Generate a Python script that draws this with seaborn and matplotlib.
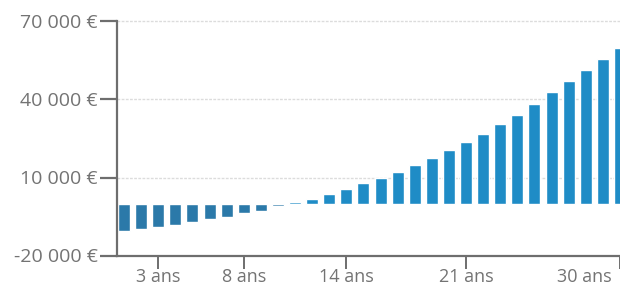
import matplotlib
matplotlib.use("Agg")
import matplotlib.pyplot as plt
import matplotlib.transforms as mtransforms
import seaborn as sns
import pandas as pd

# values (euros), one bar per year
years = list(range(1, 31))
gains = [-10500, -9700, -9100, -8100, -7200, -6150, -5000, -3700, -2700, -1100,
         500, 1800, 3700, 5650, 7800, 9900, 12300, 14900, 17600, 20400,
         23600, 26800, 30400, 34200, 38300, 42700, 47000, 51400, 55600, 59900]
tick_years = [3, 8, 14, 21, 30]
y_ticks = [-20000, 10000, 40000, 70000]

df = pd.DataFrame({"annee": years, "gain": gains})
df["signe"] = ["neg" if g < 0 else "pos" for g in gains]

sns.set_style("white")
plt.rcParams["font.family"] = ["Open Sans", "DejaVu Sans"]

fig = plt.figure(figsize=(6.2, 2.88), dpi=100)
ax = fig.add_axes([117 / 620, 32.5 / 288, 1 - 117 / 620, 234 / 288])

sns.barplot(data=df, x="annee", y="gain", hue="signe",
            palette={"neg": "#2b79a9", "pos": "#1f8cc6"},
            dodge=False, width=0.7, legend=False, ax=ax, saturation=1)

ax.set_xlim(-0.41, 29.0)
ax.set_ylim(-20000, 70000)
ax.set_yticks(y_ticks)
ax.set_yticklabels([f"{v:,}".replace(",", " ") + " €" for v in y_ticks])
ax.set_xticks([years.index(y) for y in tick_years])
ax.set_xticklabels([f"{y} ans" for y in tick_years])
ax.set_xlabel("")
ax.set_ylabel("")

for v in y_ticks[1:]:
    ax.axhline(v, color="#dcdcdc", lw=1, ls=(0, (2, 1)), zorder=0, clip_on=False)

for s in ["top", "right"]:
    ax.spines[s].set_visible(False)
for s in ["left", "bottom"]:
    ax.spines[s].set_color("#6e6e6e")
    ax.spines[s].set_linewidth(1.6)

ax.tick_params(axis="y", left=True, length=12, width=1.6, color="#6e6e6e",
               labelsize=14, labelcolor="#737373", pad=2)
ax.tick_params(axis="x", bottom=True, length=9, width=1.4, color="#6e6e6e",
               labelsize=13, labelcolor="#737373", pad=0)

# last label sits inside the cropped right edge
last = ax.get_xticklabels()[-1]
last.set_ha("right")
last.set_transform(last.get_transform() +
                   mtransforms.ScaledTranslation(-8 / 100, 0, fig.dpi_scale_trans))

fig.savefig("out.png", dpi=100)
